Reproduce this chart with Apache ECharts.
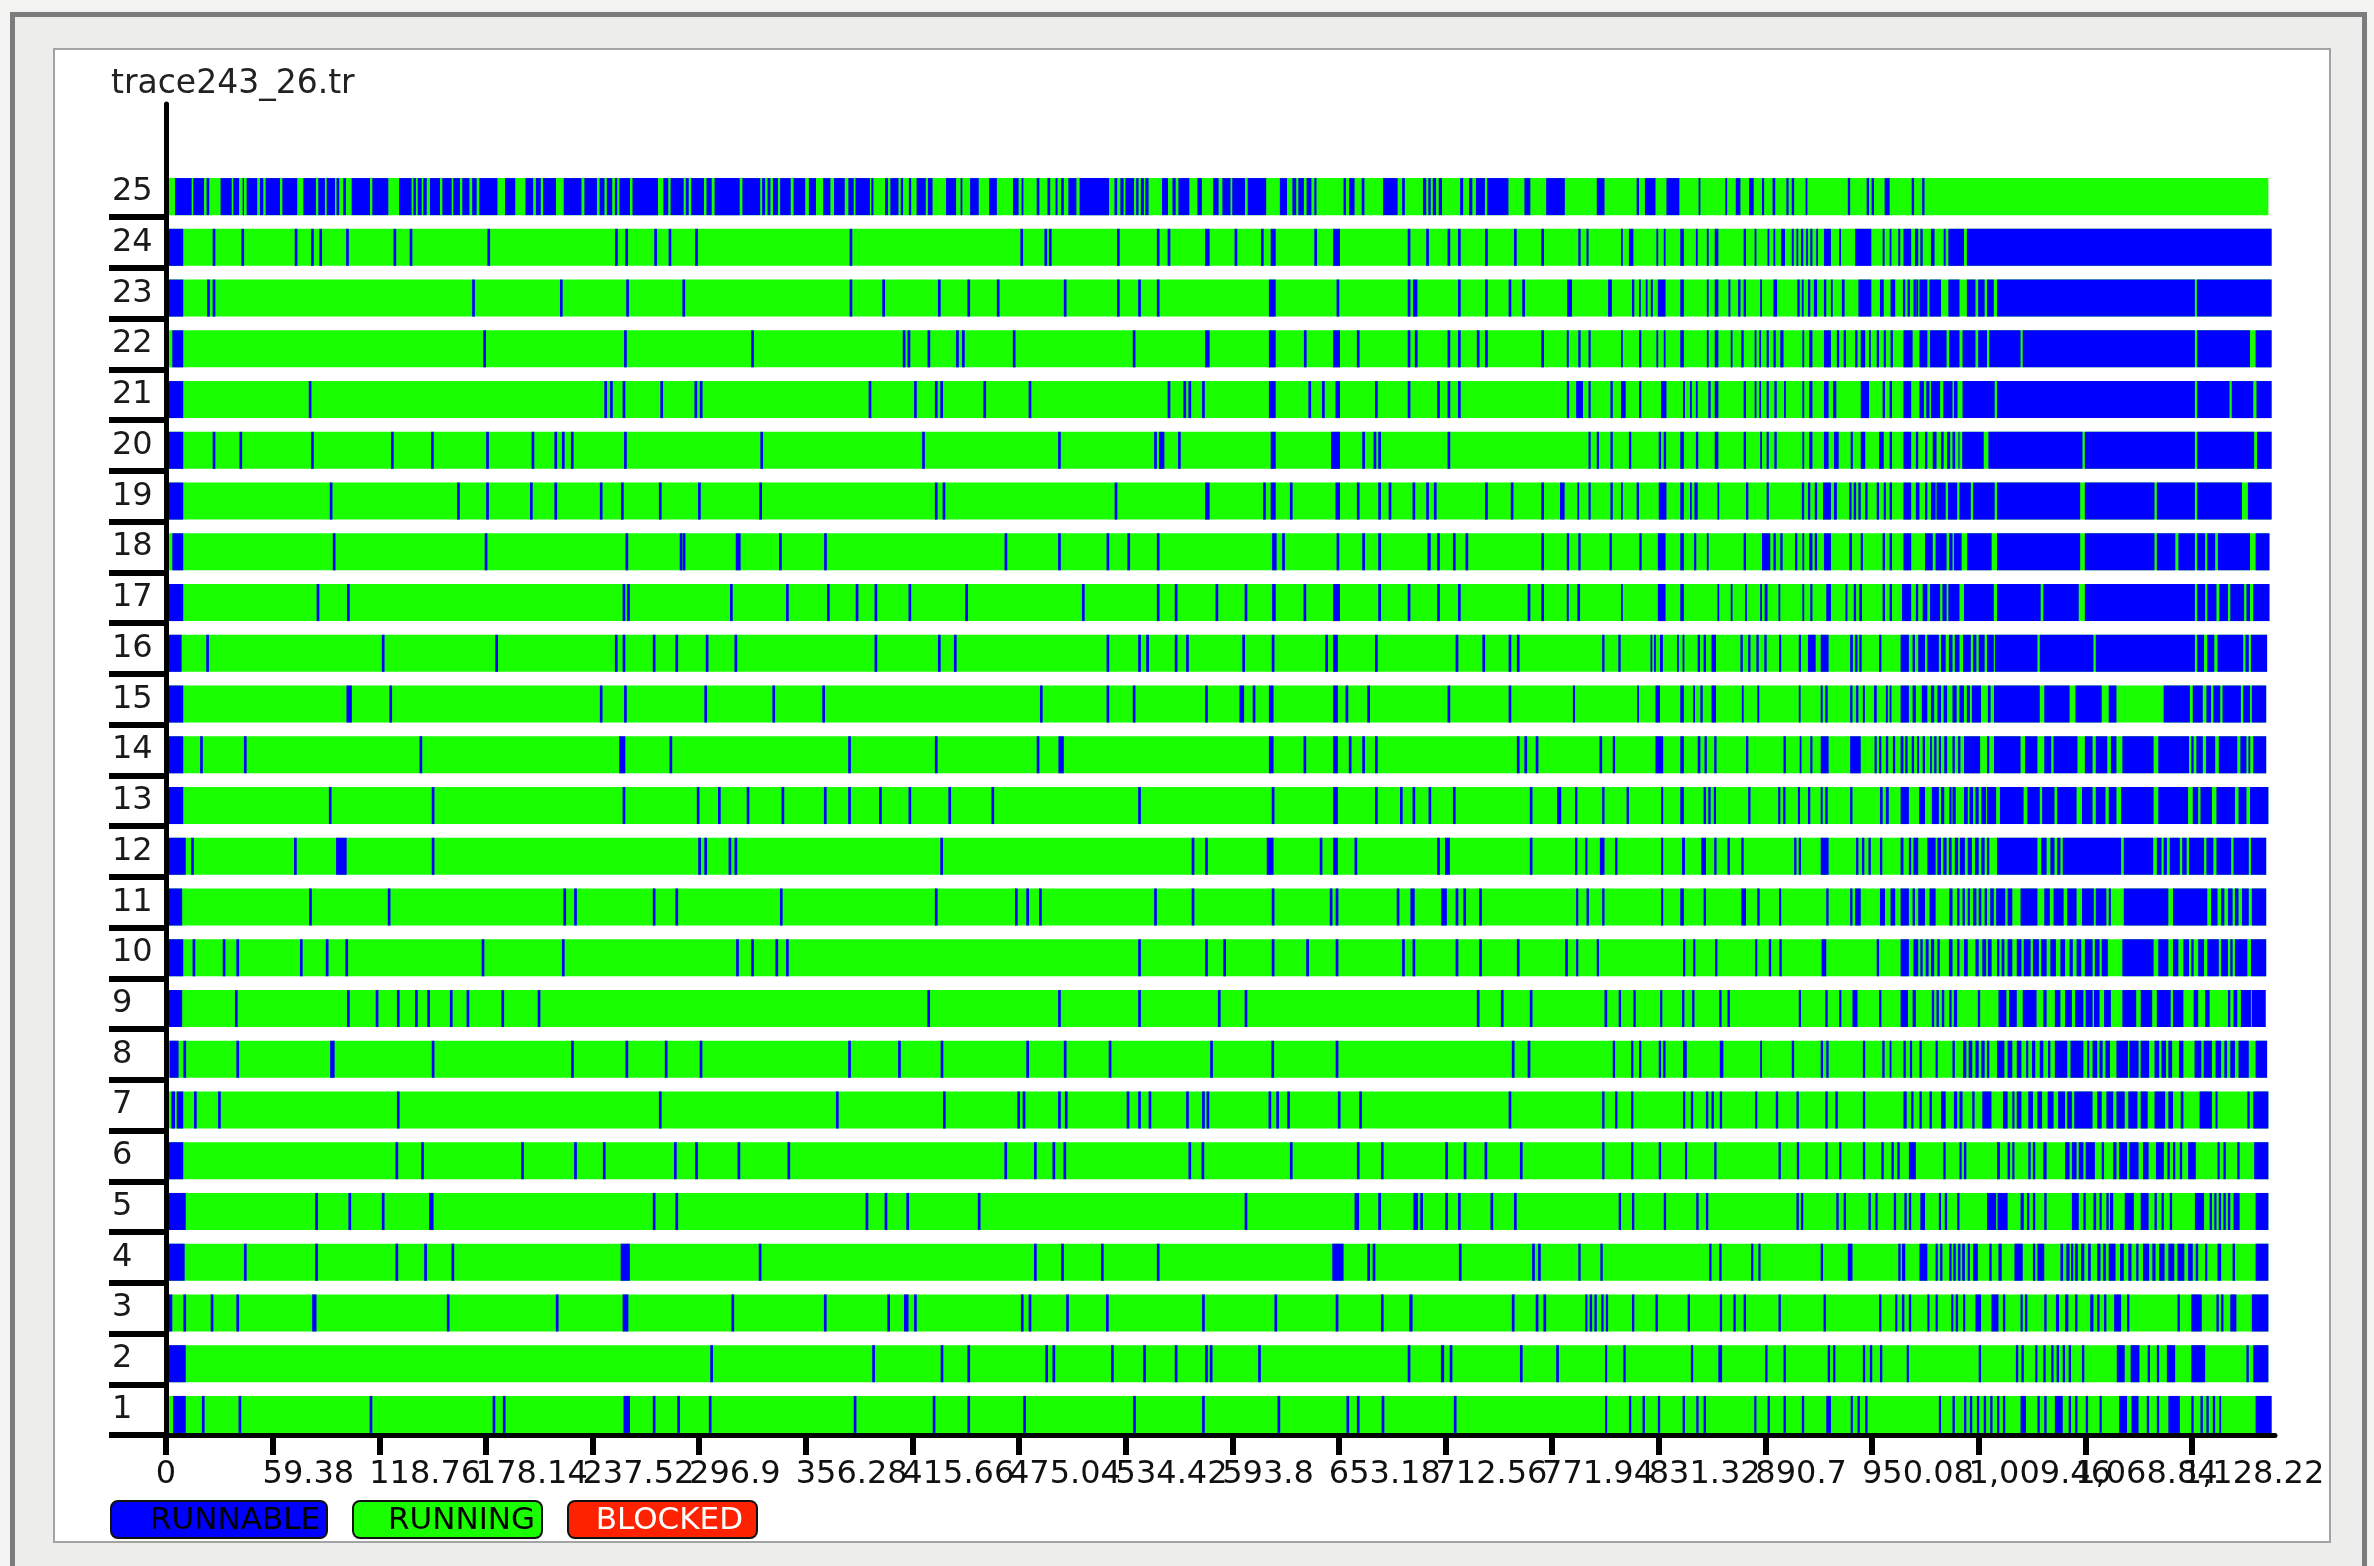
<!DOCTYPE html>
<html>
<head>
<meta charset="utf-8">
<script src="https://cdn.jsdelivr.net/npm/echarts@6/dist/echarts.min.js"></script>
<style>
  html, body { margin:0; padding:0; background:#f3f3f1; overflow:hidden; }
  #frame { position:absolute; left:10px; top:12px; width:2357px; height:1600px; box-sizing:border-box;
           border:5px solid #7c7c7c; background:#ededeb; }
  #panel { position:absolute; left:53px; top:48px; width:2278px; height:1495px; box-sizing:border-box;
           background:#ffffff; border:2px solid #a3a3a3; }
  #chart { position:absolute; left:0; top:0; width:2374px; height:1566px; }
</style>
</head>
<body>
<div id="frame"></div>
<div id="panel"></div>
<div id="chart"></div>
<script>
// ---------------- DATA (time units) ----------------
const chartTitle = 'trace243_26.tr';
const rowLabels = ['1','2','3','4','5','6','7','8','9','10','11','12','13','14','15','16','17','18','19','20','21','22','23','24','25'];
const tickValues = [0,59.38,118.76,178.14,237.52,296.9,356.28,415.66,475.04,534.42,593.8,653.18,712.56,771.94,831.32,890.7,950.08,1009.46,1068.84,1128.22];
const tickLabels = ['0','59.38','118.76','178.14','237.52','296.9','356.28','415.66','475.04','534.42','593.8','653.18','712.56','771.94','831.32','890.7','950.08','1,009.46','1,068.84','1,128.22'];
const stateNames = ['RUNNABLE','RUNNING','BLOCKED'];
// end of each row's trace (row 1 .. row 25)
const rowEnds = [1172.6,1170.8,1170.8,1170.8,1170.8,1170.8,1170.8,1170.1,1169.3,1169.6,1169.6,1169.6,1170.8,1169.6,1169.6,1170.1,1171.4,1171.4,1172.6,1172.6,1172.6,1172.6,1172.6,1172.6,1170.8];

// RUNNABLE intervals [start, end] per row
const runnable01 = [[4,11],[20,21.5],[40.4,41.9],[113.4,114.9],[181.9,183.4],[187.6,189.1],[254.8,258.4],[271.1,272.6],[284.7,286.2],[302.3,303.8],[383,384.5],[427,428.5],[446.3,447.8],[477.4,478.9],[538.6,540.1],[577,578.5],[619,620.5],[657.4,658.9],[663.2,664.7],[677,678.5],[717.2,718.7],[801.4,802.6],[814.7,816],[822.3,823.6],[830.8,832.1],[844.6,845.9],[852.2,853.5],[856.3,857.6],[884.5,885.7],[891.9,893.2],[900.8,902.1],[911,912.3],[924.6,927.2],[938.2,939.4],[942,943.3],[946.3,947.6],[987.3,988.5],[994.9,996.2],[1001.3,1002.6],[1004.6,1005.9],[1008.5,1009.8],[1012.3,1013.6],[1015.9,1017.2],[1019.7,1021],[1023,1024.3],[1032.8,1035.8],[1042.2,1043.5],[1046,1047.3],[1051.9,1056.3],[1059.6,1060.9],[1063.2,1064.5],[1069.1,1070.4],[1076.8,1078],[1087.7,1092.1],[1094.6,1098.5],[1103.1,1104.4],[1108.7,1110],[1115.1,1121.5],[1127.9,1129.2],[1133,1134.3],[1136.3,1137.6],[1139.9,1141.2],[1143.5,1144.5],[1163.7,1172.6]];
const runnable02 = [[0,11],[303.1,304.6],[393.3,394.8],[431.4,432.9],[446.3,447.8],[489.7,491.2],[493.7,495.2],[526.3,527.8],[544.2,545.7],[561.8,563.3],[578.7,580.2],[581.3,582.8],[608.2,609.7],[691.5,693],[710,711.8],[714.9,716.4],[754,755.5],[774.2,775.7],[801.4,802.6],[811.6,812.9],[849.2,850.5],[864.5,866.6],[890.6,891.9],[900.8,902.1],[925.4,926.7],[928.4,929.7],[945,946.3],[948.9,950.2],[954.5,955.8],[969.4,970.6],[1009.5,1010.8],[1030.2,1031.5],[1033.3,1034.6],[1041,1042.2],[1045.5,1046.8],[1049.9,1051.2],[1052.9,1054.2],[1056.3,1057.6],[1059.6,1060.9],[1067,1068.3],[1086.4,1090.8],[1094.1,1099],[1103.6,1104.9],[1108.7,1110],[1114.3,1118.9],[1127.9,1135.6],[1158.6,1159.9],[1162.4,1170.8]];
const runnable03 = [[1,3.5],[9.7,11.2],[24.9,26.4],[39.2,40.7],[81.4,83.8],[156.4,157.9],[217.1,218.6],[254.3,257.5],[314.9,316.4],[366.4,367.9],[401.7,403.2],[411,413.5],[416.6,418.1],[476.1,477.6],[480.4,481.9],[501.3,502.8],[523.5,525],[577,578.5],[617.3,618.8],[651.4,652.9],[676.6,678.1],[692.4,694.2],[749.5,751],[762.8,764.3],[767.1,768.6],[790.4,791.6],[792.9,794.2],[795.5,796.8],[799.3,800.6],[801.9,803.1],[816.4,817.7],[829.5,830.8],[847.4,848.7],[865.3,866.6],[872.9,874.2],[878.6,879.9],[898,899.3],[923.1,924.4],[954,955.3],[963,964.2],[966.8,968.1],[970.6,971.9],[980.9,982.1],[985.5,986.7],[994.2,995.4],[996.7,998],[1000.8,1002],[1007.7,1010.8],[1016.6,1020.5],[1023,1024.3],[1032.8,1034],[1035.3,1036.6],[1046,1047.3],[1052.5,1054.2],[1057.6,1059.4],[1063.2,1064.5],[1071.6,1073.4],[1075.5,1076.8],[1079.3,1080.6],[1084.9,1088.8],[1092.1,1093.4],[1120.2,1121.5],[1127.9,1133.7],[1141.9,1143.2],[1144.5,1145.8],[1149.6,1153],[1161.6,1170.8]];
const runnable04 = [[0,10.4],[43.4,44.9],[83.1,84.6],[127.8,129.3],[143.8,145.3],[159,160.5],[253.2,258.3],[330.1,331.6],[483.4,484.9],[498.5,500],[520.7,522.2],[551.8,553.3],[649.5,655.8],[669,670.5],[672,673.5],[720,721.5],[760.8,762.3],[764.1,765.6],[786.5,787.8],[798.8,800.1],[859.4,860.7],[865,866.3],[882.7,884],[886.8,888],[921.5,922.8],[936.6,939.2],[964.7,966],[966.8,968.6],[976.5,980.9],[985.5,986.7],[988,989.3],[993.1,994.4],[995.4,996.7],[998,999.3],[1000.3,1001.8],[1003.4,1004.6],[1006.4,1009],[1015.4,1016.7],[1020.5,1022.3],[1029.4,1034],[1039.7,1041],[1042.2,1046],[1055,1056.5],[1058.3,1060.1],[1060.9,1062.2],[1063.2,1064.7],[1066.5,1068.3],[1070.4,1071.9],[1075.5,1077.3],[1078.8,1080.3],[1081.9,1085.7],[1088.2,1090.3],[1092.8,1094.6],[1097.2,1098.5],[1101,1104.4],[1106.2,1108],[1110,1113],[1115.1,1118.4],[1120.2,1124],[1126.1,1128.7],[1130.4,1131.7],[1135.6,1136.8],[1142.5,1144.5],[1150.9,1152.2],[1163.7,1170.8]];
const runnable05 = [[0,11],[83.1,84.6],[101.6,103.1],[120.2,121.7],[146.5,149],[271.1,272.6],[283.7,285.2],[389.6,391.1],[400.2,401.7],[412.3,413.8],[452.1,453.6],[600.7,602.2],[661.9,664.4],[675.1,676.6],[694.7,697.2],[698.5,700],[712.4,713.9],[719.5,721],[737.6,739.1],[750.7,752.2],[809,810.3],[816.4,817.7],[834.1,835.4],[852.2,853.5],[857.6,858.9],[908,909.3],[910.5,911.8],[930.2,931.5],[934.3,935.6],[948.1,949.4],[952,953.2],[962.2,963.5],[968.1,969.4],[970.6,971.9],[977,979.6],[987.3,988.5],[990.6,991.9],[997.5,998.8],[1014.1,1019.2],[1020,1025.6],[1032.8,1034.6],[1036.4,1037.7],[1039.7,1041],[1046,1047.3],[1061.4,1065.2],[1067.8,1069.1],[1073.4,1074.9],[1076.8,1078],[1080.6,1081.9],[1082.6,1084.4],[1090.8,1095.9],[1099.7,1104.1],[1107.4,1108.7],[1111.3,1112.6],[1115.9,1117.2],[1129.9,1135],[1138.1,1139.4],[1140.7,1141.9],[1143.2,1144.5],[1145.8,1147.1],[1148.3,1149.6],[1151.4,1154.8],[1163.7,1170.8]];
const runnable06 = [[0,9.6],[127.8,129.3],[142.1,143.6],[197.8,199.3],[227.3,228.8],[243.3,244.8],[282.9,284.4],[294.7,296.2],[318.3,319.8],[346.1,347.6],[466.9,468.4],[483.4,484.9],[493.7,495.2],[499.8,501.3],[569.4,570.9],[576.7,578.2],[625.9,627.4],[663.2,664.7],[676.6,678.1],[712.4,713.9],[722.7,724.2],[734.3,735.8],[754,755.5],[799.8,801.1],[815.9,817.2],[831.3,832.6],[845.9,847.1],[862.2,863.5],[898,899.3],[908.2,909.5],[924.1,925.4],[931.8,933],[945,946.3],[955.3,956.6],[960.9,962.2],[964.2,965.5],[970.6,974.5],[989.8,991.1],[998.8,1000],[1001.3,1002.6],[1019.7,1021.3],[1025.6,1026.9],[1028.2,1029.4],[1037.1,1038.4],[1039.7,1041],[1045.5,1047.3],[1057.6,1060.1],[1061.4,1064],[1065.2,1067.8],[1069.1,1074.2],[1078,1079.3],[1084.4,1086.2],[1087.7,1092.1],[1093.4,1098.5],[1101,1104.1],[1108.2,1112.6],[1114.6,1115.9],[1117.7,1119],[1121.5,1122.8],[1126.1,1130.4],[1142.5,1143.7],[1145.8,1147.1],[1153.5,1154.8],[1162.9,1170.8]];
const runnable07 = [[3,5],[6,9.6],[15.6,17.1],[29,30.5],[128.6,130.1],[274.5,276],[373.1,374.6],[432.7,434.2],[474.1,475.6],[477.1,478.6],[496.8,498.3],[500.6,502.1],[535,536.5],[541.4,542.9],[547.2,548.7],[568.1,569.6],[577,578.5],[579.5,581],[614,615.5],[618.3,619.8],[624.4,625.9],[652.6,654.1],[664.5,666],[747.7,749.2],[799.8,801.1],[807,808.3],[815.9,817.2],[844.8,846.1],[849.2,850.5],[857.6,858.9],[860.7,862],[865.3,866.6],[885,886.2],[896.5,897.8],[908,909.3],[924.1,925.4],[929.7,931],[945,946.3],[967.6,969.4],[971.9,973.2],[976.5,977.8],[982.1,983.4],[988.5,991.1],[995.7,997.5],[998.8,1000.5],[1005.9,1007.2],[1011.5,1016.6],[1023,1025.6],[1028.2,1029.4],[1030.7,1033.3],[1037.1,1039.7],[1042.2,1044.8],[1047.9,1051.2],[1053.7,1057.6],[1058.8,1061.4],[1062.7,1072.9],[1075.5,1078],[1080.6,1084.4],[1086.2,1090.8],[1092.8,1097.9],[1099.7,1103.6],[1107.4,1113.3],[1115.1,1117.7],[1122,1123.5],[1132.5,1139.4],[1141.4,1142.5],[1159.1,1160.4],[1162.4,1170.8]];
const runnable08 = [[2,7],[9.7,11.2],[39.2,40.7],[91.4,93.9],[148,149.5],[225.6,227.1],[255.9,257.4],[277.8,279.3],[297.2,298.7],[379.9,381.4],[407.7,409.2],[431.4,432.9],[479.1,480.6],[500,501.5],[525,526.5],[581.5,583],[615.6,617.1],[651.4,652.9],[749.5,751],[758.3,759.8],[805.7,807],[815.9,817.2],[820.3,821.6],[831.3,832.6],[833.8,835.1],[844.8,846.9],[865.3,867.3],[887.8,888.8],[905.4,906.7],[921.5,922.8],[924.6,925.9],[945,946.3],[955.8,957.1],[959.9,960.9],[967.6,968.9],[971.2,972.4],[976.5,977.8],[985.5,986.7],[994.9,996.2],[1000.8,1002.6],[1003.9,1005.9],[1007.7,1009.5],[1011,1012.8],[1014.1,1015.4],[1019.7,1023.8],[1025.6,1028.2],[1030.7,1033.3],[1035.9,1037.1],[1039.2,1041],[1043.5,1045.5],[1048.1,1049.4],[1051.9,1058.8],[1060.6,1067.8],[1069.9,1071.1],[1072.9,1075.5],[1076.8,1078.5],[1080.1,1082.6],[1086.2,1092.6],[1093.4,1098.5],[1099.7,1104.4],[1107.4,1110],[1111.3,1113.8],[1115.1,1117.2],[1121,1123.5],[1129.7,1133.5],[1134.8,1139.4],[1141.4,1144.5],[1146.3,1147.8],[1149.6,1152.2],[1154.2,1159.9],[1163.7,1170.1]];
const runnable09 = [[0,9],[38.4,39.9],[100.8,102.3],[116.8,118.3],[128.6,130.1],[138.7,140.2],[145.5,147],[158.1,159.6],[167.4,168.9],[186.8,188.3],[207,208.5],[424,425.5],[496.8,498.3],[541.4,542.9],[585.8,587.3],[600.7,602.2],[730,731.5],[743.4,744.9],[759.5,761],[801.1,802.6],[809,810.3],[817.2,818.5],[832.1,833.3],[844.3,845.6],[849.9,851.2],[865,866.3],[869.6,870.9],[909.3,910.5],[924.1,925.4],[931.8,933],[939.2,942],[954,955.3],[966,970.1],[972.7,974.5],[983.4,984.7],[986,987.3],[989,990.3],[993.1,994.4],[995.7,997.5],[1009,1010.3],[1020.5,1024.9],[1026.4,1030.7],[1034,1041.7],[1045.5,1047.3],[1051.9,1055],[1057.6,1061.4],[1063.2,1067.8],[1069.1,1072.9],[1073.7,1076.8],[1079.3,1083.1],[1089.5,1097.2],[1099.7,1106.1],[1108.7,1116.4],[1117.7,1123.5],[1129.2,1131.7],[1135.6,1138.1],[1148.3,1149.6],[1151.4,1153.5],[1155.5,1161.1],[1161.6,1169.3]];
const runnable10 = [[0,9.6],[14.8,16.3],[31.6,33.1],[39.2,40.7],[74.6,76.1],[89,90.5],[99.9,101.4],[175.8,177.3],[220.5,222],[317.5,319],[325.9,327.4],[339.4,340.9],[345.3,346.8],[541.4,542.9],[578.7,580.2],[588.8,590.3],[615.8,617.3],[635,636.5],[651.4,652.9],[688.4,689.9],[694.2,695.7],[718.2,719.7],[731.3,732.8],[752.3,753.8],[779.2,780.7],[785.3,786.5],[796.8,798],[844.8,846.1],[850.5,851.7],[862.7,864],[885,886.2],[892.6,893.9],[898.5,899.8],[922,924.6],[952.7,954],[966,970.6],[973.2,975.8],[977,978.3],[980,981.6],[982.9,984.7],[986.5,987.8],[992.9,994.9],[997.5,998.8],[1001.3,1003.4],[1007.7,1009.5],[1011.5,1013.6],[1014.6,1016.7],[1019.7,1021],[1022.3,1023.8],[1025.6,1028.2],[1030.7,1033.3],[1034.6,1038.4],[1039.7,1043],[1044.3,1047.3],[1049.4,1052.5],[1055,1057.6],[1060.1,1061.9],[1064,1066.6],[1068.6,1072.9],[1074.2,1076.8],[1078,1081.4],[1089.5,1106.9],[1109.5,1115.1],[1117.7,1120.7],[1123.5,1126.6],[1127.9,1129.2],[1131.7,1135],[1136.8,1143.2],[1144.5,1148.3],[1149.6,1150.9],[1152.2,1159.1],[1161.1,1169.6]];
const runnable11 = [[0,9],[79.7,81.2],[123.5,125],[221.3,222.8],[227.3,228.8],[271.1,272.6],[283.7,285.2],[341.9,343.4],[428.2,429.7],[472.8,474.3],[479.1,480.6],[486.2,487.7],[550.3,551.8],[571.2,572.7],[615.8,617.3],[648.1,649.6],[651.4,652.9],[685.4,686.9],[693,695.4],[710.2,713.3],[718.2,719.7],[722.5,724],[731.3,732.8],[785.3,786.5],[791.1,792.4],[799.8,801.1],[832.6,833.8],[843.3,845.3],[856.3,857.6],[877.3,879.9],[886.2,887.5],[898.3,899.5],[924.6,925.9],[937.9,939.2],[940.7,943.8],[954.5,957.3],[960.4,963],[966,970.6],[972.7,974],[975.8,979.6],[982.1,985.5],[993.1,994.9],[997.5,998.8],[1000.5,1001.8],[1003.4,1004.6],[1006.4,1008.2],[1009.5,1011],[1012.8,1014.1],[1015.9,1017.9],[1019.2,1024.3],[1025.6,1028.2],[1032.8,1042.2],[1046,1049.1],[1051.2,1056.8],[1058.8,1064],[1067,1073.6],[1074.7,1080.6],[1081.9,1083.1],[1090.3,1115.1],[1117.7,1136.8],[1138.9,1142.5],[1144.5,1146.3],[1148.3,1150.9],[1152.2,1154.2],[1156.1,1159.9],[1161.6,1169.6]];
const runnable12 = [[0,11],[14,15.5],[71.3,72.8],[94.7,100.6],[148,149.5],[296.4,297.9],[299.8,301.3],[313.3,314.8],[316.6,318.1],[431.2,432.7],[571.2,572.7],[578.7,580.2],[613,616.8],[642.5,644],[650,652.6],[661.9,663.4],[707.9,709.4],[712.3,715],[759.5,761],[784.7,786],[790.4,791.6],[798.5,801.1],[807,808.3],[832.6,833.8],[844.3,845.9],[855,857.6],[862.2,863.5],[869.6,870.9],[877.3,878.6],[906.7,908],[909.3,910.5],[921.5,925.9],[941.2,942.5],[944.5,945.8],[948.1,949.4],[954.5,955.8],[966,967.6],[970.6,971.9],[973.2,975.8],[980.9,985.5],[986.5,988.5],[989.8,991.6],[992.9,994.4],[996.2,998],[999,1001.8],[1003.4,1005.7],[1007.4,1009.5],[1011,1012.8],[1014.1,1015.4],[1019.7,1042.2],[1044.3,1047.3],[1049.4,1051.7],[1053.2,1055],[1056.3,1088.8],[1090.3,1106.7],[1108.7,1111.3],[1112.5,1114.3],[1115.9,1121.5],[1122.8,1125.3],[1126.6,1135],[1136.3,1140.2],[1141.9,1150.1],[1151.4,1159.9],[1161.1,1169.6]];
const runnable13 = [[0,9.6],[90.7,92.2],[148,149.5],[254.3,255.8],[295.6,297.1],[307.4,308.9],[323.4,324.9],[342.8,344.3],[366.4,367.9],[379.9,381.4],[397.1,398.6],[413.5,415],[435.7,437.2],[459.7,461.2],[541.4,542.9],[615.8,617.3],[650,652.6],[673.3,674.8],[687.2,688.7],[694.2,695.7],[703.1,704.6],[716.7,718.2],[759.5,761],[774.7,777],[784.7,786],[799.8,801.1],[813.4,814.7],[832.6,833.8],[843.3,845.3],[856.3,857.6],[858.9,860.2],[862,863.2],[881.1,882.4],[897.8,899],[900.6,901.9],[908.8,910],[914.4,915.7],[921.5,922.6],[924.1,925.4],[937.9,939.2],[954.5,956],[957.8,959.4],[966,970.6],[976.3,979.6],[983.4,987.3],[988.5,990.3],[993.1,994.4],[994.9,996.7],[1001.3,1003.4],[1004.4,1006.4],[1007.7,1009.5],[1011,1013.6],[1014.1,1019.2],[1021.3,1034.5],[1036.6,1043.5],[1044.8,1051.7],[1053.2,1064],[1067,1072.9],[1074.7,1080.1],[1081.9,1086.2],[1088.8,1106.9],[1109.5,1126.1],[1128.7,1131.7],[1133,1139.4],[1141.9,1152.2],[1154.2,1158.6],[1160.6,1170.8]];
const runnable14 = [[0,9.6],[19,20.5],[43.4,44.9],[141.2,142.7],[252.4,255.8],[280.4,281.9],[379.9,381.4],[428.2,429.7],[484.9,486.4],[497,500],[614.2,616.8],[633.5,635],[650,652.6],[658.7,660.2],[666.2,667.7],[673.3,674.8],[752.3,753.8],[756.5,758],[762.8,764.3],[798.3,799.8],[805.7,807],[829.5,833.8],[843.3,845.3],[853,854.5],[856.8,858.1],[862.2,863.5],[879.9,881.2],[900.8,902.1],[909.8,910.8],[915.7,916.9],[921.5,925.9],[937.9,943.8],[951.5,952.7],[954,955.3],[957.8,959.1],[961.7,963],[966,967.6],[968.6,969.9],[972.2,973.5],[975.2,976.3],[978.3,979.6],[982.4,983.4],[984.7,986],[987.3,988.5],[990.3,991.9],[994.9,996.2],[998,999.3],[1001.3,1010.3],[1014.1,1015.4],[1018,1032.8],[1035.3,1042.2],[1046,1049.9],[1051.2,1064.5],[1068.6,1072.9],[1074.7,1081.1],[1083.1,1086.2],[1089.5,1106.9],[1109.5,1126.6],[1127.9,1129.2],[1130.7,1134.3],[1136.1,1141.2],[1143.2,1153.5],[1155.2,1158.6],[1159.7,1160.7],[1162.4,1169.6]];
const runnable15 = [[0,9.6],[100.5,103.5],[124.4,125.9],[241.6,243.1],[255.1,256.6],[299.8,301.3],[337.7,339.2],[365.5,367],[486.7,488.2],[523.8,525.3],[538.4,539.9],[578.7,580.2],[597.8,600.4],[605.2,606.7],[614.2,616.8],[650,652.6],[656.9,658.4],[669,670.5],[713.7,715.2],[747.7,749.2],[783.5,784.7],[819.3,820.3],[829.5,832],[843.3,845.3],[850.5,851.5],[854.5,855.8],[860.7,863.2],[877.6,878.6],[886.2,887.3],[909.3,910.3],[921.5,922.6],[924.1,925.4],[937.9,939.2],[941.2,942.5],[945,946.1],[951.2,952.7],[957.8,958.9],[959.9,960.9],[966,970.6],[972.7,974.5],[977.8,980.9],[982.9,984.7],[986.5,988.5],[990,991.9],[994.9,997.2],[998.8,1001.3],[1002.9,1004.6],[1005.7,1010.8],[1014.6,1016.1],[1018,1043.5],[1046,1060.1],[1063.4,1078],[1081.9,1086.2],[1112.5,1127.1],[1128.7,1134.3],[1136.3,1138.9],[1140.2,1144],[1145.3,1155.5],[1156.8,1160.6],[1161.6,1169.6]];
const runnable16 = [[0,8.7],[22.4,23.9],[120.2,121.7],[183.4,184.9],[250,251.5],[254.3,255.8],[271.1,272.6],[283.7,285.2],[300.6,302.1],[316.6,318.1],[394.6,396.1],[429.9,431.4],[438.8,440.3],[523.8,525.3],[541.4,542.9],[545.9,547.4],[561.8,563.3],[568.1,569.6],[599.4,600.9],[615.8,617.3],[645.6,647.1],[650,652.6],[673.3,674.8],[718.2,719.7],[733.1,734.6],[747.7,749.2],[752.3,753.8],[799.8,801.1],[808.8,810.1],[826.7,827.7],[828.7,829.7],[832,833.6],[841.5,842.5],[844.6,845.6],[853,854.3],[856.3,857.6],[860.7,863.2],[876.8,878.1],[881.1,882.4],[885.7,887],[890.1,891.4],[898.3,899.5],[909.3,910.5],[914.4,918.7],[921.5,925.9],[937.9,939.4],[940.7,942],[943,944.3],[954,955.3],[966,970.6],[972.7,974],[975.8,979.6],[980.9,987.3],[988.5,991.1],[992.9,994.9],[996.2,998.8],[1000.8,1005.1],[1006.4,1008.2],[1009.5,1012.8],[1014.1,1017.9],[1018.5,1042.2],[1043.5,1073.4],[1074.7,1129.9],[1131.2,1135],[1136.8,1140.7],[1142.5,1156.8],[1158.1,1159.9],[1161.1,1170.1]];
const runnable17 = [[0,9.6],[83.9,85.4],[100.8,102.3],[254.3,255.8],[256.8,258.3],[314.1,315.6],[345.3,346.8],[368.1,369.6],[384.1,385.6],[394.6,396.1],[413.5,415],[445.1,446.6],[510.1,511.6],[551.8,553.3],[561.8,563.3],[584.5,586],[600.7,602.2],[616,618],[633.5,635],[650,653.8],[675.1,676.6],[691.5,693],[707.9,709.4],[719.5,721],[758.3,759.8],[765.9,767.4],[780.1,781.2],[786,787.5],[810.3,811.3],[830.8,835.1],[843.3,845.3],[864,865],[871.4,872.4],[879.4,880.4],[887.8,888.8],[890.3,891.9],[898,899],[911.3,912.3],[915.7,916.9],[924.6,927.2],[935.3,936.4],[939.9,941.2],[943,944.5],[956,957.3],[959.9,961.2],[966.8,971.9],[974.5,975.8],[978.3,980.9],[982.4,988],[989.3,991.6],[992.6,998.8],[1001.3,1017.9],[1019.7,1044],[1045.5,1065.2],[1068.6,1129.9],[1131.2,1135.6],[1136.8,1141.9],[1143.5,1148.3],[1149.6,1157.3],[1158.6,1160.6],[1162.4,1171.4]];
const runnable18 = [[3.5,9.6],[92.9,94.4],[177.5,179],[255.9,257.4],[286.1,287.6],[287.8,289.3],[317.3,320],[341.4,342.9],[366.5,368],[467,468.5],[496.8,498.3],[523.8,525.3],[535.4,536.9],[551.8,553.3],[616,618.5],[621.6,623.1],[651.9,653.4],[666.2,667.7],[675.1,676.6],[702.5,704.3],[707.9,709.4],[716.7,718.2],[723.7,725.2],[765.9,767.4],[780.1,781.4],[786.5,787.8],[803.9,805.2],[820.5,821.8],[830.8,835.1],[843.3,845.3],[851,852.2],[858.1,859.1],[878.6,879.9],[888.8,893.4],[895.2,896.5],[899,900.3],[907.2,908.5],[911.3,912.3],[915.1,916.9],[918.2,919.5],[923.3,927.2],[937.4,938.9],[943.8,945],[956,957.3],[959.9,961.2],[967.6,971.9],[979.6,983.9],[985.5,991.6],[993.1,994.9],[995.7,1000],[1003.1,1016.7],[1019.7,1066],[1068.6,1107.4],[1108.7,1119],[1120.7,1129.9],[1131.2,1135.6],[1136.8,1141.2],[1142.7,1160.6],[1163.7,1171.4]];
const runnable19 = [[0,9.6],[91.2,92.7],[162.1,163.6],[178.3,179.8],[202.7,204.2],[216.3,217.8],[241.6,243.1],[253.4,254.9],[274.5,276],[296.3,297.8],[330.4,331.9],[428.2,429.7],[432.5,434],[528.3,529.8],[578.7,581.2],[611,612.5],[615.2,618],[625.9,627.4],[651.3,653.8],[663.2,664.7],[675.1,676.6],[680.9,682.4],[694.2,695.7],[701.8,703.3],[706.1,707.6],[734.6,736.1],[748.9,750.4],[765.9,767.4],[776.3,778.9],[786,787],[792.2,793.4],[804.4,805.7],[810.3,811.3],[819,820.3],[831.3,835.6],[843.3,845.3],[848.7,849.7],[851.2,853],[864,865],[879.9,881.2],[891.4,892.6],[911,912.3],[914.4,915.7],[918.2,919.5],[922.8,927.2],[928.9,930.5],[937.4,938.7],[939.9,941.2],[942.5,943.8],[946.3,947.6],[952.7,954],[956.6,957.8],[959.9,961.2],[967.6,971.9],[974.5,976.5],[979.6,980.9],[982.9,985.5],[986,991.1],[992.4,997.5],[998.8,1005.1],[1006.4,1018.4],[1019.7,1066],[1068.6,1107.4],[1108.7,1129.9],[1131.2,1156.1],[1159.4,1172.6]];
const runnable20 = [[0,9.6],[26,27.5],[40.9,42.4],[80.8,82.3],[125.3,126.8],[147.6,149.1],[178.3,179.8],[203.6,205.1],[216.3,217.8],[220.5,222],[225.5,227],[255.1,256.6],[331,332.5],[421.1,422.6],[496.8,498.3],[550.3,551.8],[553,556],[563.6,565.1],[615.2,618],[648.8,653.8],[666.2,667.7],[672.5,674],[675.1,676.6],[713.7,715.2],[792.2,793.4],[796.8,798],[804.4,805.7],[814.7,816],[831.3,832.6],[834.1,835.4],[843.3,845.3],[852,853.3],[862.5,864.5],[878.6,879.9],[887.8,888.8],[891.4,892.6],[895.7,897],[911.3,912.3],[915.1,916.9],[923.3,925.9],[928.9,931.5],[938.2,939.4],[943.8,946.3],[954,956.6],[959.9,961.2],[967.6,971.9],[974.5,975.8],[979.6,980.9],[983.9,986],[988.5,990],[991.9,993.6],[994.9,996.4],[998.2,998.8],[1000.3,1012.3],[1014.9,1067.3],[1068.6,1129.9],[1131.2,1162.9],[1164.5,1172.6]];
const runnable21 = [[0,9.6],[79.5,81],[244.1,245.6],[247.3,248.8],[254.3,255.8],[275.3,276.8],[294.3,295.8],[297.3,298.8],[391.3,392.8],[416.6,418.1],[428.2,429.7],[431.2,432.7],[455.2,456.7],[480.4,481.9],[557.8,559.3],[566.6,568.1],[569.4,570.9],[577,578.5],[614.2,618],[636.2,637.7],[643.8,645.3],[651.3,653.8],[673.3,674.8],[691.5,693],[707.9,709.4],[713.7,715.2],[719.5,721],[780.1,781.4],[785.3,789.1],[792.2,793.4],[804.4,805.7],[810.3,812.9],[820.3,821.6],[832.6,835.6],[844.8,845.9],[848.7,849.7],[852,853],[858.9,860.2],[862.5,864.5],[878.6,879.9],[884.7,885.7],[887.3,888.3],[891.4,892.6],[895.7,897],[901.1,902.1],[911.3,912.3],[915.1,916.9],[923.3,925.9],[928.4,930.2],[943.8,948.4],[956,957.3],[959.9,961.2],[967.6,971.9],[976.5,979],[980.3,982.1],[982.9,988],[989.8,994.9],[995.7,997.7],[1000.5,1018.4],[1019.7,1129.9],[1131.2,1149.2],[1150.4,1162.4],[1164.2,1172.6]];
const runnable22 = [[3.5,9.6],[176.7,178.2],[255.1,256.6],[325.9,327.4],[410.3,411.8],[413,414.5],[424.1,425.6],[440,441.5],[443.3,444.8],[471.6,473.1],[538.4,539.9],[578.7,581.2],[614.2,618],[633.7,635.2],[650,653.8],[663.2,664.7],[691.5,693],[695.5,697],[713.7,715.2],[719.5,721],[730,731.5],[734.6,736.1],[765.9,767.4],[780.1,781.2],[786.5,787.8],[792.2,793.4],[810.3,811.3],[820.3,821.6],[830,831],[834.1,835.1],[843.3,845.3],[858.1,859.1],[862.5,864.5],[871.4,872.4],[877.3,878.6],[884.7,885.7],[887.3,888.3],[891.4,892.6],[895.2,896.5],[899,900.8],[911.3,912.3],[915.1,916.9],[923.3,927.2],[930.5,931.8],[934.3,935.6],[940.7,942],[943.8,946.3],[948.4,949.4],[952.7,954],[956.6,957.8],[960.4,961.7],[967.6,972.7],[976.5,980.9],[982.4,991.6],[993.1,998.8],[1000.5,1007.7],[1009.2,1014.1],[1015.4,1032.8],[1034,1129.9],[1131.2,1160.6],[1163.7,1172.6]];
const runnable23 = [[0,9.6],[22.9,24.4],[26,27.5],[170.5,172],[219.4,220.9],[256.3,257.8],[287.6,289.1],[380.7,382.2],[398.9,400.4],[429.9,431.4],[446.3,447.8],[462.7,464.2],[500,501.5],[529.6,531.1],[541.4,542.9],[551.8,553.3],[614.2,618],[651.9,653.4],[691.5,693],[694.5,696.9],[719.5,721],[734.6,736.1],[747.7,749.2],[755.3,756.8],[780.3,783],[803.1,805.2],[816.4,817.7],[820.3,821.3],[824.1,825.1],[826.9,828],[830.8,835.1],[843.3,845.3],[858.1,859.1],[862.5,864.5],[870.1,871.2],[875.5,876.8],[878.6,879.9],[887.8,888.8],[895.2,897.2],[908.5,909.8],[911,912],[914.4,915.7],[917.7,919.5],[923.3,924.6],[927.2,928.2],[933.3,934.8],[942.5,949.7],[954.5,956.6],[960.4,963],[967.3,968.6],[969.9,971.2],[973.2,974.5],[974.7,975.8],[976.5,980.9],[982.1,988.5],[992.6,998.8],[1002.9,1007.7],[1009.2,1012.8],[1014.1,1017.9],[1019.7,1129.9],[1131,1172.6]];
const runnable24 = [[0,9.6],[26,27.5],[42,43.5],[71.7,73.2],[80.8,82.3],[85.4,86.9],[100.3,101.8],[126.7,128.2],[135.7,137.2],[179,180.5],[250.1,251.6],[255.8,257.3],[271.9,273.4],[279.9,281.4],[294.7,296.2],[380.7,382.2],[475.8,477.3],[489.2,490.7],[491.7,493.2],[529.6,531.1],[551.8,553.3],[557.8,559.3],[578.7,581.2],[595.1,596.6],[609.8,611.3],[615.2,618],[639.5,641],[650,653.8],[691.5,693],[701.8,703.3],[713.7,715.2],[719.5,721],[734.6,736.1],[750.7,752.2],[765.9,767.4],[786.5,787.8],[791.1,792.2],[810.3,811.3],[814.7,817.2],[830,831],[834.1,835.1],[843.3,845.3],[852,853],[858.1,859.1],[862.5,864.5],[878.6,879.9],[884.7,885.7],[891.9,892.9],[895.2,896.2],[899.5,901.6],[905.4,906.5],[908,909],[910.5,911.8],[913.4,914.4],[915.7,916.9],[919,920],[923.3,927.2],[931.8,932.8],[940.7,949.7],[956,957.1],[959.9,960.9],[964.7,965.8],[967.6,971.9],[974,975.8],[977,978.3],[982.9,984.9],[990,991.1],[992.6,1001.3],[1002.9,1172.6]];
const runnable25 = [[5,14.3],[15.2,21.2],[22.6,24.1],[30.4,36.6],[37.5,40.7],[42.7,43.4],[44.9,50.8],[52.3,54.2],[55.5,63.5],[64.8,73.1],[76.5,83.5],[84.8,88.5],[89.5,94.1],[95,96.5],[98.7,100.2],[103.4,113.6],[114.9,123.8],[129.8,136.8],[137.8,139.2],[140.2,142.4],[143.3,145.2],[147,152.6],[153.9,159.1],[160,163.7],[165,169],[170.5,173],[174.5,184.6],[188.8,194.5],[200.2,204.5],[206,208.7],[210,217.2],[221.5,231.4],[233,240],[241.5,244.2],[245.5,248.5],[250,251.3],[252.5,258.4],[259.8,274],[277,279.7],[281,288.3],[289.5,291.1],[292.5,299.6],[301,303.9],[305.5,319.5],[321,330.9],[332,333.7],[335,336.6],[338,340.8],[342,347.9],[349.5,356],[358,362],[366,370],[372,378],[380,383],[384,392],[392.8,394],[400.4,402.1],[403.4,407.9],[409.2,410.5],[413.7,415],[418,423.1],[424.3,426.9],[434.4,440],[442.5,443.5],[447.8,452.6],[458.4,462.7],[471.7,474.8],[476.5,477.5],[484.9,486.4],[490.9,492.4],[495.4,496.5],[498.5,500],[502.5,507],[508.8,525.2],[528.2,529.7],[531.5,533.3],[534.3,539.1],[540.3,541.6],[542.9,544.6],[545.4,547.2],[554.7,558],[560.5,562.3],[563.8,569.9],[574.4,576.9],[583.2,586.2],[588.3,592.8],[593.8,600.9],[602.4,612.7],[620.3,624.3],[627.3,629.4],[630.6,633.7],[635.2,637.9],[639.5,640.7],[655.8,657.1],[658.9,661.9],[665.9,667.4],[677.8,685.9],[688.4,689.9],[700,701.8],[703,704.3],[705.5,707.3],[708.8,710.6],[720.7,722.4],[725.7,727.5],[729.5,734.5],[735.8,747.6],[756.5,759.8],[768.6,779],[796.8,801.1],[819,820.3],[823.6,829.5],[835.6,842.8],[853.5,854.5],[868.4,869.4],[874.2,876.8],[881.6,884.2],[888.8,890],[894.7,896.2],[902.4,903.6],[905.4,906.7],[913.1,914.1],[936.6,937.9],[947.1,948.4],[949.9,951.2],[957.1,959.9],[972.2,973.5],[978,979.3]];
const blockedIntervals = []; // no BLOCKED state appears in this trace

// ---------------- BUILD ----------------
const runnableRows = [runnable01,runnable02,runnable03,runnable04,runnable05,runnable06,runnable07,runnable08,runnable09,runnable10,
  runnable11,runnable12,runnable13,runnable14,runnable15,runnable16,runnable17,runnable18,runnable19,runnable20,
  runnable21,runnable22,runnable23,runnable24,runnable25];

const runningData = rowEnds.map((e, i) => [i + 1, 0, e]);
const runnableData = [];
runnableRows.forEach((list, i) => list.forEach(p => runnableData.push([i + 1, p[0], p[1]])));

const BAR_LO = 0.04, BAR_HI = 0.77;   // vertical extent of a bar inside its row band
function renderBar(params, api) {
  const row = api.value(0);
  const p0 = api.coord([api.value(1), row - 1 + BAR_LO]);
  const p1 = api.coord([api.value(2), row - 1 + BAR_HI]);
  return {
    type: 'rect',
    shape: { x: p0[0], y: p1[1], width: Math.max(p1[0] - p0[0], 1), height: p0[1] - p1[1] },
    style: { fill: api.visual('color') }
  };
}

const FONT = 'DejaVu Sans';
const X_MAX = 1174.5;
const LABEL_SHIFT = 5.6;   // tick labels start a little left of their tick (label-only axes are shifted)
const yTicks = []; for (let k = 0; k < rowLabels.length; k++) yTicks.push(k);
const yLabelPos = rowLabels.map((_, k) => k + 0.5);
const labelIndex = v => Math.round(v / tickValues[1]);
// overlapping tick labels are split over two label-only axes so none of them gets dropped
const oddTicks = tickValues.filter((_, i) => i > 0 && i % 2 === 1);
const evenTicks = tickValues.filter((_, i) => i > 0 && i % 2 === 0);

function labelAxis(values) {
  return {
    type: 'value', min: LABEL_SHIFT, max: X_MAX + LABEL_SHIFT, z: 10, position: 'bottom',
    axisLine: { show: false }, axisTick: { show: false }, splitLine: { show: false },
    axisLabel: {
      customValues: values, align: 'left', margin: 24, color: '#111', fontFamily: FONT, fontSize: 32,
      showMinLabel: true, showMaxLabel: true, hideOverlap: false, formatter: v => tickLabels[labelIndex(v)]
    }
  };
}

const chart = echarts.init(document.getElementById('chart'), null, { renderer: 'canvas' });
chart.setOption({
  backgroundColor: 'transparent',
  animation: false,
  title: {
    text: chartTitle, left: 106, top: 63,
    textStyle: { fontFamily: FONT, fontSize: 33, fontWeight: 'normal', color: '#222' }
  },
  legend: {
    data: stateNames, left: 107, top: 1500, padding: 0, itemGap: 21,
    itemWidth: 0, itemHeight: 0, icon: 'rect', selectedMode: false,
    formatter: name => '{' + ['a','b','c'][stateNames.indexOf(name)] + '|' + name + '}',
    textStyle: {
      fontFamily: FONT, fontSize: 31,
      rich: {
        a: { width: 203, align: 'right', lineHeight: 30, padding: [3, 6, 1, 5], color: '#000', fontFamily: FONT, fontSize: 31,
             backgroundColor: '#0000ff', borderColor: '#111', borderWidth: 2, borderRadius: 6 },
        b: { width: 176, align: 'right', lineHeight: 30, padding: [3, 6, 1, 5], color: '#000', fontFamily: FONT, fontSize: 31,
             backgroundColor: '#19ff00', borderColor: '#111', borderWidth: 2, borderRadius: 6 },
        c: { width: 170, align: 'right', lineHeight: 30, padding: [3, 13, 1, 4], color: '#fff', fontFamily: FONT, fontSize: 31,
             backgroundColor: '#ff2200', borderColor: '#111', borderWidth: 2, borderRadius: 6 }
      }
    }
  },
  grid: { left: 166, right: 99, top: 104, bottom: 131, containLabel: false },
  xAxis: [
    {
      type: 'value', min: 0, max: X_MAX, z: 10, position: 'bottom',
      axisLine: { show: true, lineStyle: { color: '#000', width: 5 } },
      axisTick: { show: true, customValues: tickValues, length: 20, lineStyle: { color: '#000', width: 6 } },
      axisLabel: {
        customValues: [tickValues[0]], margin: 24, color: '#111', fontFamily: FONT, fontSize: 32,
        showMinLabel: true, showMaxLabel: true, formatter: v => tickLabels[labelIndex(v)]
      },
      splitLine: { show: false }
    },
    labelAxis(oddTicks),
    labelAxis(evenTicks)
  ],
  yAxis: {
    type: 'value', min: 0, max: 26.23, z: 10,
    axisLine: { show: true, lineStyle: { color: '#000', width: 5 } },
    axisTick: { show: true, customValues: yTicks, length: 57, lineStyle: { color: '#000', width: 6 } },
    axisLabel: {
      customValues: yLabelPos, align: 'left', margin: 54, color: '#1a1a1a', fontFamily: FONT, fontSize: 32,
      showMinLabel: true, showMaxLabel: true, formatter: v => rowLabels[Math.round(v - 0.5)]
    },
    splitLine: { show: false }
  },
  series: [
    { name: 'RUNNING', type: 'custom', renderItem: renderBar, data: runningData, xAxisIndex: 0,
      itemStyle: { color: '#19ff00' }, encode: { x: [1, 2], y: 0 }, z: 2 },
    { name: 'RUNNABLE', type: 'custom', renderItem: renderBar, data: runnableData, xAxisIndex: 0,
      itemStyle: { color: '#0000ff' }, encode: { x: [1, 2], y: 0 }, z: 3 },
    { name: 'BLOCKED', type: 'custom', renderItem: renderBar, data: blockedIntervals, xAxisIndex: 0,
      itemStyle: { color: '#ff2200' }, encode: { x: [1, 2], y: 0 }, z: 4 }
  ]
});
</script>
</body>
</html>
